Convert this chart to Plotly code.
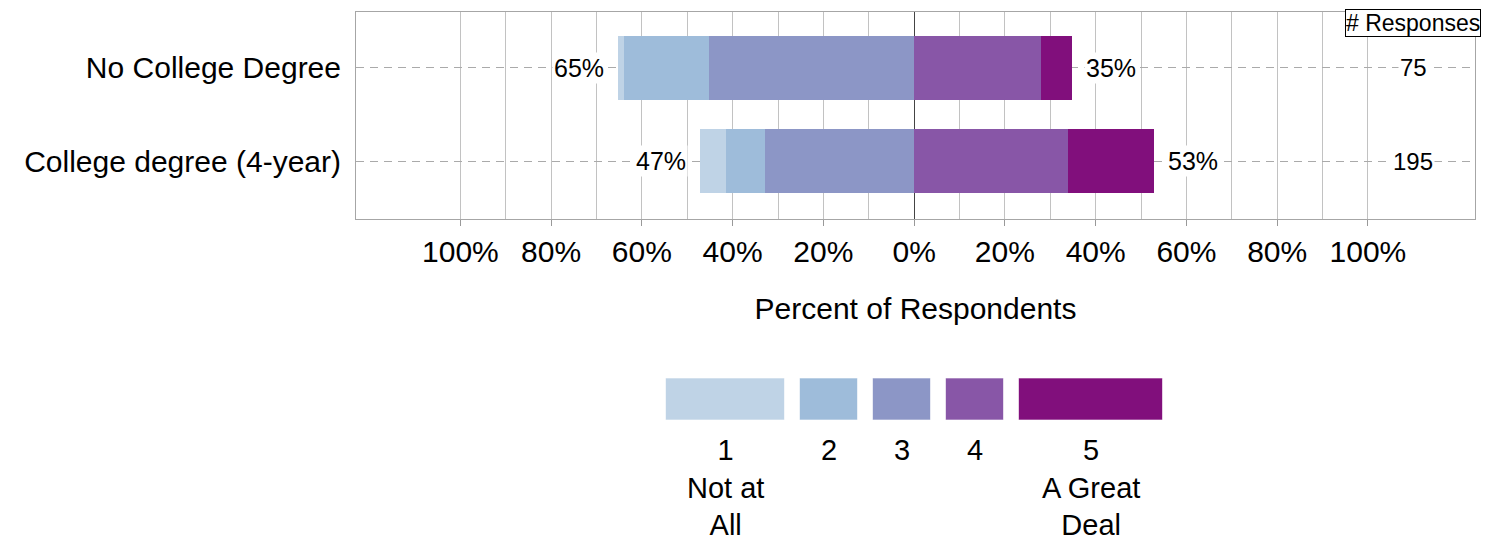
import plotly.graph_objects as go

# survey groups (top to bottom) and response scale
groups = ["No College Degree", "College degree (4-year)"]
levels = ["1", "2", "3", "4", "5"]
level_labels = ["1<br>Not at<br>All", "2", "3", "4", "5<br>A Great<br>Deal"]
n_responses = [75, 195]

# percent of respondents per level, one list per level (No College, College)
pct_1 = [1.3, 5.6]
pct_2 = [18.7, 8.7]
pct_3 = [45.3, 32.8]
pct_4 = [28.0, 33.8]
pct_5 = [6.7, 19.0]
pct = [pct_1, pct_2, pct_3, pct_4, pct_5]

tick_vals = [-100, -80, -60, -40, -20, 0, 20, 40, 60, 80, 100]
tick_text = ["100%", "80%", "60%", "40%", "20%", "0%", "20%", "40%", "60%", "80%", "100%"]
minor_vals = [-90, -70, -50, -30, -10, 10, 30, 50, 70, 90]

colors = ["#BFD3E6", "#9EBCDA", "#8C96C6", "#8856A7", "#810F7C"]
FONT = "Liberation Sans, Arial, sans-serif"

# page geometry (pixels); the page body has an 8px margin
OFF = 8
W, H = 1491, 541
L, R, T, B = 356, 1475, 12, 219


def px_x(px):
    return (px - L) / (R - L)


def px_y(py):
    return (B - py) / (B - T)


fig = go.Figure()

# negatives stack outward from 0: level 3 first, then 2, then 1
order = [2, 1, 0, 3, 4]
for i in order:
    sign = -1 if i < 3 else 1
    fig.add_trace(go.Bar(
        y=groups,
        x=[sign * v for v in pct[i]],
        orientation="h",
        marker=dict(color=colors[i], line=dict(width=0)),
        width=0.69,
        name=levels[i],
        showlegend=False,
        hoverinfo="skip",
    ))

# percent labels at bar ends, and count column
for g, grp in enumerate(groups):
    left = sum(p[g] for p in pct[:3])
    right = sum(p[g] for p in pct[3:])
    fig.add_annotation(x=-left, y=grp, text="%d%%" % round(left), showarrow=False,
                       xanchor="right", xshift=-12, font=dict(size=25),
                       bgcolor="white", borderpad=1)
    fig.add_annotation(x=right, y=grp, text="%d%%" % round(right), showarrow=False,
                       xanchor="left", xshift=12, font=dict(size=25),
                       bgcolor="white", borderpad=1)
    fig.add_annotation(x=110, y=grp, text=str(n_responses[g]), showarrow=False,
                       xanchor="center", font=dict(size=24), bgcolor="white", borderpad=1)

fig.add_annotation(x=110, y=1, yref="paper", text="# Responses", showarrow=False,
                   xanchor="center", yanchor="middle", yshift=-11, font=dict(size=23),
                   bgcolor="white", bordercolor="black", borderwidth=1, borderpad=0)

# legend swatches drawn under the axis, centred on 0%
box_w = [119, 58, 58, 58, 144]
gap = 15
total = sum(box_w) + gap * (len(box_w) - 1)
x0 = 914 - total / 2
for i, bw in enumerate(box_w):
    fig.add_shape(type="rect", xref="paper", yref="paper",
                  x0=px_x(x0), x1=px_x(x0 + bw), y0=px_y(420), y1=px_y(378),
                  fillcolor=colors[i], line=dict(width=1, color="rgba(255,255,255,0.6)"))
    fig.add_annotation(xref="paper", yref="paper", x=px_x(x0 + bw / 2), y=px_y(432),
                       text=level_labels[i], showarrow=False,
                       xanchor="center", yanchor="top",
                       align="center", font=dict(size=29))
    x0 += bw + gap

fig.update_layout(
    width=W - OFF, height=H - OFF, autosize=False,
    margin=dict(l=L - OFF, r=W - R, t=T - OFF, b=H - B),
    plot_bgcolor="white", paper_bgcolor="white",
    barmode="relative", bargap=0,
    font=dict(family=FONT, color="black", size=30),
)
fig.update_xaxes(
    range=[-123, 123.6],
    tickmode="array", tickvals=tick_vals, ticktext=tick_text,
    ticks="outside", ticklen=6, tickcolor="#999999",
    tickfont=dict(size=30),
    showgrid=True, gridcolor="#c2c2c2", gridwidth=1,
    minor=dict(tickmode="array", tickvals=minor_vals,
               showgrid=True, gridcolor="#c2c2c2", gridwidth=1, ticks=""),
    zeroline=True, zerolinecolor="#444444", zerolinewidth=1,
    showline=True, linecolor="#a6a6a6", linewidth=1, mirror=True,
    title=dict(text="Percent of Respondents", font=dict(size=30), standoff=30),
)
fig.update_yaxes(
    categoryorder="array", categoryarray=groups[::-1],
    range=[-0.62, 1.60],
    ticks="", tickfont=dict(size=30), ticklabelstandoff=8,
    showgrid=True, gridcolor="#aaaaaa", griddash="8px,6px", gridwidth=1,
    showline=True, linecolor="#a6a6a6", linewidth=1, mirror=True,
)

fig.write_html("out.html")
